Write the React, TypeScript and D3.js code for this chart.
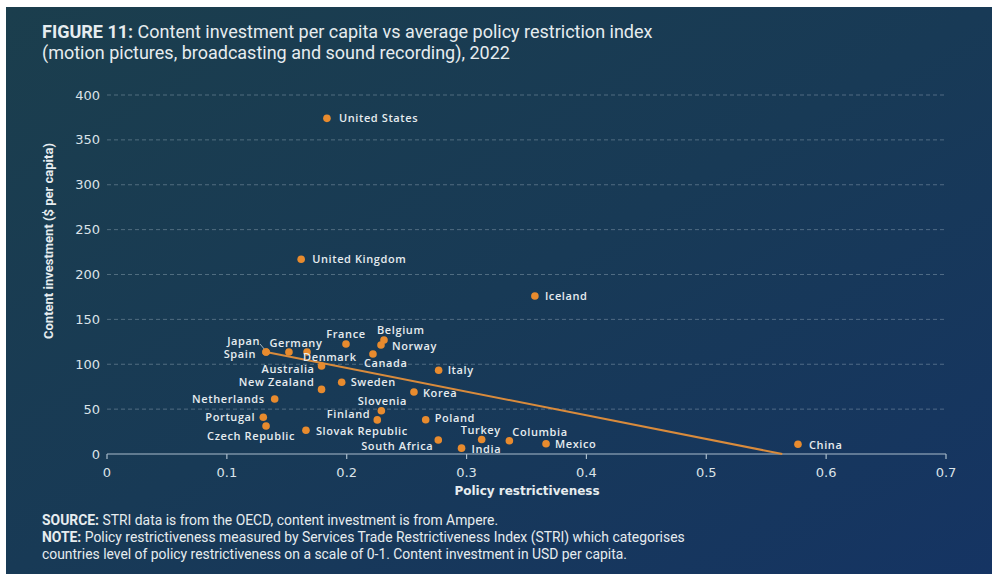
import React from "react";
import * as d3 from "d3";

const countries = [
  "United States", "United Kingdom", "Iceland", "France", "Belgium", "Norway", "Canada",
  "Japan", "Spain", "Germany", "Denmark", "Australia", "New Zealand", "Sweden", "Italy",
  "Korea", "Netherlands", "Slovenia", "Finland", "Poland", "Portugal", "Czech Republic",
  "Slovak Republic", "South Africa", "India", "Turkey", "Columbia", "Mexico", "China",
];
const restrictiveness = [
  0.1835, 0.162, 0.357, 0.1994, 0.2311, 0.2286, 0.2219,
  0.1327, 0.1327, 0.1518, 0.1669, 0.179, 0.179, 0.1958, 0.2767,
  0.2561, 0.1399, 0.2289, 0.2255, 0.2659, 0.1304, 0.1327,
  0.166, 0.2764, 0.2958, 0.3126, 0.3357, 0.3663, 0.5765,
];
const investment = [
  374, 217, 176, 122.6, 127, 121.4, 111.4,
  113.6, 113.6, 113.6, 113.6, 98, 72, 80, 93.3,
  69, 61.3, 48.2, 38, 38.2, 41, 31.2,
  26.4, 15.6, 6.5, 16.2, 14.8, 11.5, 10.8,
];
const trendX = [0.1327, 0.5634];
const trendY = [113.6, 0];
const xTicks = [0, 0.1, 0.2, 0.3, 0.4, 0.5, 0.6, 0.7];
const yTicks = [0, 50, 100, 150, 200, 250, 300, 350, 400];

// label placement (layout only)
const labelPos: Record<string, [number, number, string]> = {
  "United States": [12, 0, "start"],
  "United Kingdom": [11, 0, "start"],
  Iceland: [10, 0, "start"],
  France: [0, -10, "middle"],
  Belgium: [-7, -10, "start"],
  Norway: [11, 1, "start"],
  Canada: [-9, 9, "start"],
  Japan: [-6, -11, "end"],
  Spain: [-10, 2, "end"],
  Germany: [7, -9, "middle"],
  Denmark: [-4, 5, "start"],
  Australia: [-7, 3, "end"],
  "New Zealand": [-7, -7, "end"],
  Sweden: [9, 0, "start"],
  Italy: [9, 0, "start"],
  Korea: [9, 1, "start"],
  Netherlands: [-10, 0, "end"],
  Slovenia: [1, -10, "middle"],
  Finland: [-7, -6, "end"],
  Poland: [9, -1.5, "start"],
  Portugal: [-8, 0, "end"],
  "Czech Republic": [29, 10, "end"],
  "Slovak Republic": [10, 1, "start"],
  "South Africa": [-5, 6, "end"],
  India: [10, 1, "start"],
  Turkey: [-1, -9.5, "middle"],
  Columbia: [3, -9, "start"],
  Mexico: [9, 0, "start"],
  China: [11, 1, "start"],
};

const W = 992;
const H = 576;
const x = d3.scaleLinear().domain([0, 0.7]).range([107, 946]);
const y = d3.scaleLinear().domain([0, 400]).range([454, 95]);

const labelFont = "'Open Sans', sans-serif";
const tickFont = "'DejaVu Sans', sans-serif";
const titleFont = "Roboto, sans-serif";
const textCol = "#e6ecef";

export default function App() {
  const line = d3.line<number>().x((_, i) => x(trendX[i])).y((_, i) => y(trendY[i]));
  return (
    <div style={{ position: "fixed", left: 0, top: 0, width: W, height: H, background: "#fff" }}>
      <svg width={W} height={H} style={{ display: "block" }}>
        <defs>
          <linearGradient id="bg" x1="0" y1="0" x2="1" y2="1">
            <stop offset="0" stopColor="#1b3e4d" />
            <stop offset="0.5" stopColor="#183a56" />
            <stop offset="1" stopColor="#153463" />
          </linearGradient>
        </defs>
        <rect x={6} y={7} width={W - 6} height={H - 9} fill="url(#bg)" />

        <text x={42} y={38} fill={textCol} fontFamily={titleFont} fontSize={18}>
          <tspan fontWeight="bold">FIGURE 11:</tspan> Content investment per capita vs average policy restriction index
        </text>
        <text x={42} y={58.5} fill={textCol} fontFamily={titleFont} fontSize={18}>
          (motion pictures, broadcasting and sound recording), 2022
        </text>

        {yTicks.filter((t) => t > 0).map((t) => (
          <line key={"g" + t} x1={x(0)} x2={x(0.7)} y1={y(t)} y2={y(t)}
            stroke="rgba(200,215,225,0.32)" strokeWidth={1} strokeDasharray="4,3" />
        ))}
        {yTicks.map((t) => (
          <text key={"yt" + t} x={100} y={y(t)} dy="0.35em" textAnchor="end"
            fill="#dbe3e8" fontFamily={tickFont} fontSize={13}>{t}</text>
        ))}
        <line x1={x(0)} x2={x(0.7)} y1={y(0)} y2={y(0)} stroke="#a9bccb" strokeWidth={1.2} />
        {xTicks.map((t) => (
          <g key={"xt" + t}>
            <line x1={x(t)} x2={x(t)} y1={y(0)} y2={y(0) + 5} stroke="#a9bccb" strokeWidth={1.2} />
            <text x={x(t)} y={y(0) + 18} dy="0.35em" textAnchor="middle"
              fill="#dbe3e8" fontFamily={tickFont} fontSize={13}>{String(t)}</text>
          </g>
        ))}
        <text x={527} y={491} dy="0.35em" textAnchor="middle" fill={textCol}
          fontFamily={tickFont} fontWeight="bold" fontSize={12}>Policy restrictiveness</text>
        <text transform={`translate(48,${241}) rotate(-90)`} textAnchor="middle" dy="0.35em"
          fill={textCol} fontFamily={titleFont} fontWeight="bold" fontSize={13}>
          Content investment ($ per capita)
        </text>

        <path d={line([0, 1]) || ""} fill="none" stroke="#d98b3c" strokeWidth={2} />
        {/* Japan leader line */}
        <line x1={x(restrictiveness[7]) - 6} y1={y(investment[7]) - 8}
          x2={x(restrictiveness[7]) - 1} y2={y(investment[7]) - 2} stroke="#c9d3da" strokeWidth={0.8} />

        {countries.map((c, i) => (
          <circle key={"c" + c} cx={x(restrictiveness[i])} cy={y(investment[i])} r={3.8} fill="#e88b2e" />
        ))}
        {countries.map((c, i) => {
          const [dx, dy, anchor] = labelPos[c];
          return (
            <text key={"l" + c} x={x(restrictiveness[i]) + dx} y={y(investment[i]) + dy} dy="0.35em"
              textAnchor={anchor as any} fill={textCol} fontFamily={labelFont} fontWeight={600}
              fontSize={11} letterSpacing={0.6}>{c}</text>
          );
        })}

        <text x={42} y={525} fill={textCol} fontFamily={titleFont} fontSize={13.9}>
          <tspan fontWeight="bold">SOURCE:</tspan> STRI data is from the OECD, content investment is from Ampere.
        </text>
        <text x={42} y={542} fill={textCol} fontFamily={titleFont} fontSize={13.9}>
          <tspan fontWeight="bold">NOTE:</tspan> Policy restrictiveness measured by Services Trade Restrictiveness Index (STRI) which categorises
        </text>
        <text x={42} y={559} fill={textCol} fontFamily={titleFont} fontSize={13.9}>
          countries level of policy restrictiveness on a scale of 0-1. Content investment in USD per capita.
        </text>
      </svg>
    </div>
  );
}
